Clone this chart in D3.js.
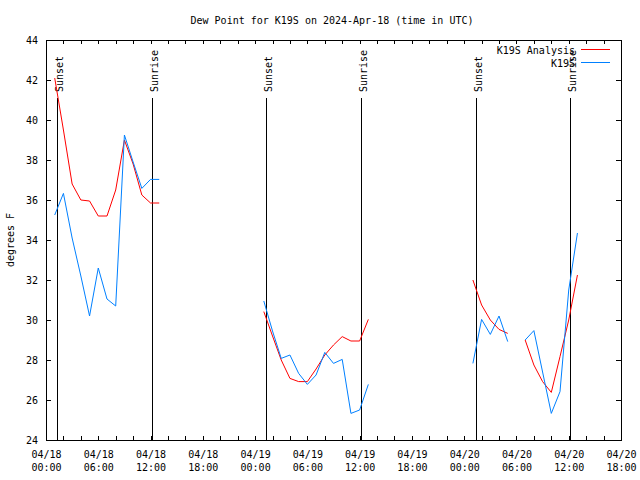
<!DOCTYPE html>
<html>
<head>
<meta charset="utf-8">
<script src="https://cdn.jsdelivr.net/npm/d3@7"></script>
<style>
  html, body { margin: 0; padding: 0; background: #fff; }
  svg { display: block; font-family: "DejaVu Sans Mono", "Liberation Mono", monospace; }
  text { font-size: 10px; fill: #000; }
</style>
</head>
<body>
<svg id="chart" width="640" height="480"></svg>
<script>
// ---- Data (hours after 2024-04-18 00:00 UTC; null = gap) ----
const analysisHours = [1,2,3,4,5,6,7,8,9,10,11,12,13,14,
  25,26,27,28,29,30,31,32,33,34,35,36,37,38,
  49,50,51,52,53,54,
  55,56,57,58,59,60,61];
const analysisValues = [42.1,39.5,36.8,36.0,35.95,35.2,35.2,36.5,39.0,37.8,36.25,35.85,35.85,null,
  30.42,29.2,28.0,27.08,26.92,26.92,27.55,28.25,28.75,29.17,28.95,28.95,30.03,null,
  32.0,30.75,30.0,29.53,29.33,null,
  29.0,27.75,26.92,26.38,28.17,30.0,32.25];

const obsHours = [1,2,3,4,5,6,7,8,9,10,11,12,13,14,
  25,26,27,28,29,30,31,32,33,34,35,36,37,38,
  49,50,51,52,53,54,
  55,56,57,58,59,60,61];
const obsValues = [35.25,36.33,34.1,32.2,30.2,32.6,31.05,30.7,39.25,37.9,36.58,37.03,37.03,null,
  30.95,29.45,28.08,28.25,27.33,26.78,27.25,28.38,27.83,28.03,25.33,25.5,26.78,null,
  27.83,30.03,29.28,30.2,28.92,null,
  29.0,29.47,27.4,25.33,26.42,31.5,34.35];

const sunsetHours = [1.27, 25.28, 49.30];
const sunriseHours = [12.17, 36.14, 60.10];

const yTicks = [24,26,28,30,32,34,36,38,40,42,44];
const xLabelHours = [0,6,12,18,24,30,36,42,48,54,60,66];
const seriesNames = ["K19S Analysis", "K19S"];
const seriesColors = ["#ff0000", "#0080ff"];
const titleText = "Dew Point for K19S on 2024-Apr-18 (time in UTC)";
const yTitle = "degrees F";

// ---- Chart ----
const start = new Date(Date.UTC(2024, 3, 18, 0, 0));
const toDate = h => new Date(start.getTime() + h * 3600000);

const pL = 46, pR = 621, pT = 40, pB = 440;
const svg = d3.select("#chart");

const x = d3.scaleUtc().domain([toDate(0), toDate(66)]).range([pL, pR]);
const y = d3.scaleLinear().domain([24, 44]).range([pB, pT]);

const minorTicks = d3.range(0, 67, 2).map(toDate);

// bottom ticks
svg.append("g").attr("transform", `translate(0,${pB})`)
  .call(d3.axisBottom(x).tickValues(minorTicks).tickSize(-4).tickFormat(""))
  .call(g => g.select(".domain").remove());
// top ticks
svg.append("g").attr("transform", `translate(0,${pT})`)
  .call(d3.axisTop(x).tickValues(minorTicks).tickSize(-4).tickFormat(""))
  .call(g => g.select(".domain").remove());
// bottom labels
const fmtDate = d3.utcFormat("%m/%d"), fmtTime = d3.utcFormat("%H:%M");
const xl = svg.append("g").attr("transform", `translate(0,${pB})`)
  .call(d3.axisBottom(x).tickValues(xLabelHours.map(toDate)).tickSize(0).tickFormat(""))
  .call(g => g.select(".domain").remove());
xl.selectAll(".tick text").each(function(d) {
  const t = d3.select(this).attr("y", null).attr("dy", null);
  t.append("tspan").attr("x", 0).attr("y", 18).text(fmtDate(d));
  t.append("tspan").attr("x", 0).attr("y", 31).text(fmtTime(d));
});

// y axes
svg.append("g").attr("transform", `translate(${pL},0)`)
  .call(d3.axisLeft(y).tickValues(yTicks).tickSize(-5).tickPadding(8).tickFormat(d3.format("d")))
  .call(g => g.select(".domain").remove());
svg.append("g").attr("transform", `translate(${pR},0)`)
  .call(d3.axisRight(y).tickValues(yTicks).tickSize(-5).tickFormat(""))
  .call(g => g.select(".domain").remove());

svg.selectAll(".tick line").attr("stroke", "#000").attr("shape-rendering", "crispEdges");
svg.selectAll(".tick text").attr("font-size", 10).attr("font-family", "DejaVu Sans Mono, monospace").attr("fill", "#000");

// border
svg.append("rect").attr("x", pL).attr("y", pT)
  .attr("width", pR - pL).attr("height", pB - pT)
  .attr("fill", "none").attr("stroke", "#000").attr("shape-rendering", "crispEdges");

// sunrise / sunset
const events = sunsetHours.map(h => ({h, label: "Sunset"}))
  .concat(sunriseHours.map(h => ({h, label: "Sunrise"})));
events.forEach(e => {
  const xp = Math.round(x(toDate(e.h))) + 0.5;
  svg.append("line").attr("x1", xp).attr("x2", xp).attr("y1", 98).attr("y2", pB)
    .attr("stroke", "#000").attr("stroke-width", 1);
  svg.append("text").attr("transform", `translate(${xp + 5},92) rotate(-90)`)
    .attr("text-anchor", "start").text(e.label);
});

// series
const line = d3.line()
  .defined(d => d.v != null)
  .x(d => x(toDate(d.h)))
  .y(d => y(d.v));

const analysis = analysisHours.map((h, i) => ({h, v: analysisValues[i]}));
const obs = obsHours.map((h, i) => ({h, v: obsValues[i]}));

svg.append("path").datum(analysis).attr("d", line)
  .attr("fill", "none").attr("stroke", seriesColors[0]).attr("stroke-width", 1);
svg.append("path").datum(obs).attr("d", line)
  .attr("fill", "none").attr("stroke", seriesColors[1]).attr("stroke-width", 1);

// legend
seriesNames.forEach((n, i) => {
  const ly = 49.5 + i * 13;
  svg.append("text").attr("x", 575).attr("y", ly + 4).attr("text-anchor", "end").text(n);
  svg.append("line").attr("x1", 581).attr("x2", 610).attr("y1", ly).attr("y2", ly)
    .attr("stroke", seriesColors[i]).attr("stroke-width", 1);
});

// title
svg.append("text").attr("x", 332).attr("y", 24).attr("text-anchor", "middle").text(titleText);

// y title
svg.append("text").attr("transform", "translate(14,240) rotate(-90)")
  .attr("text-anchor", "middle").text(yTitle);
</script>
</body>
</html>
